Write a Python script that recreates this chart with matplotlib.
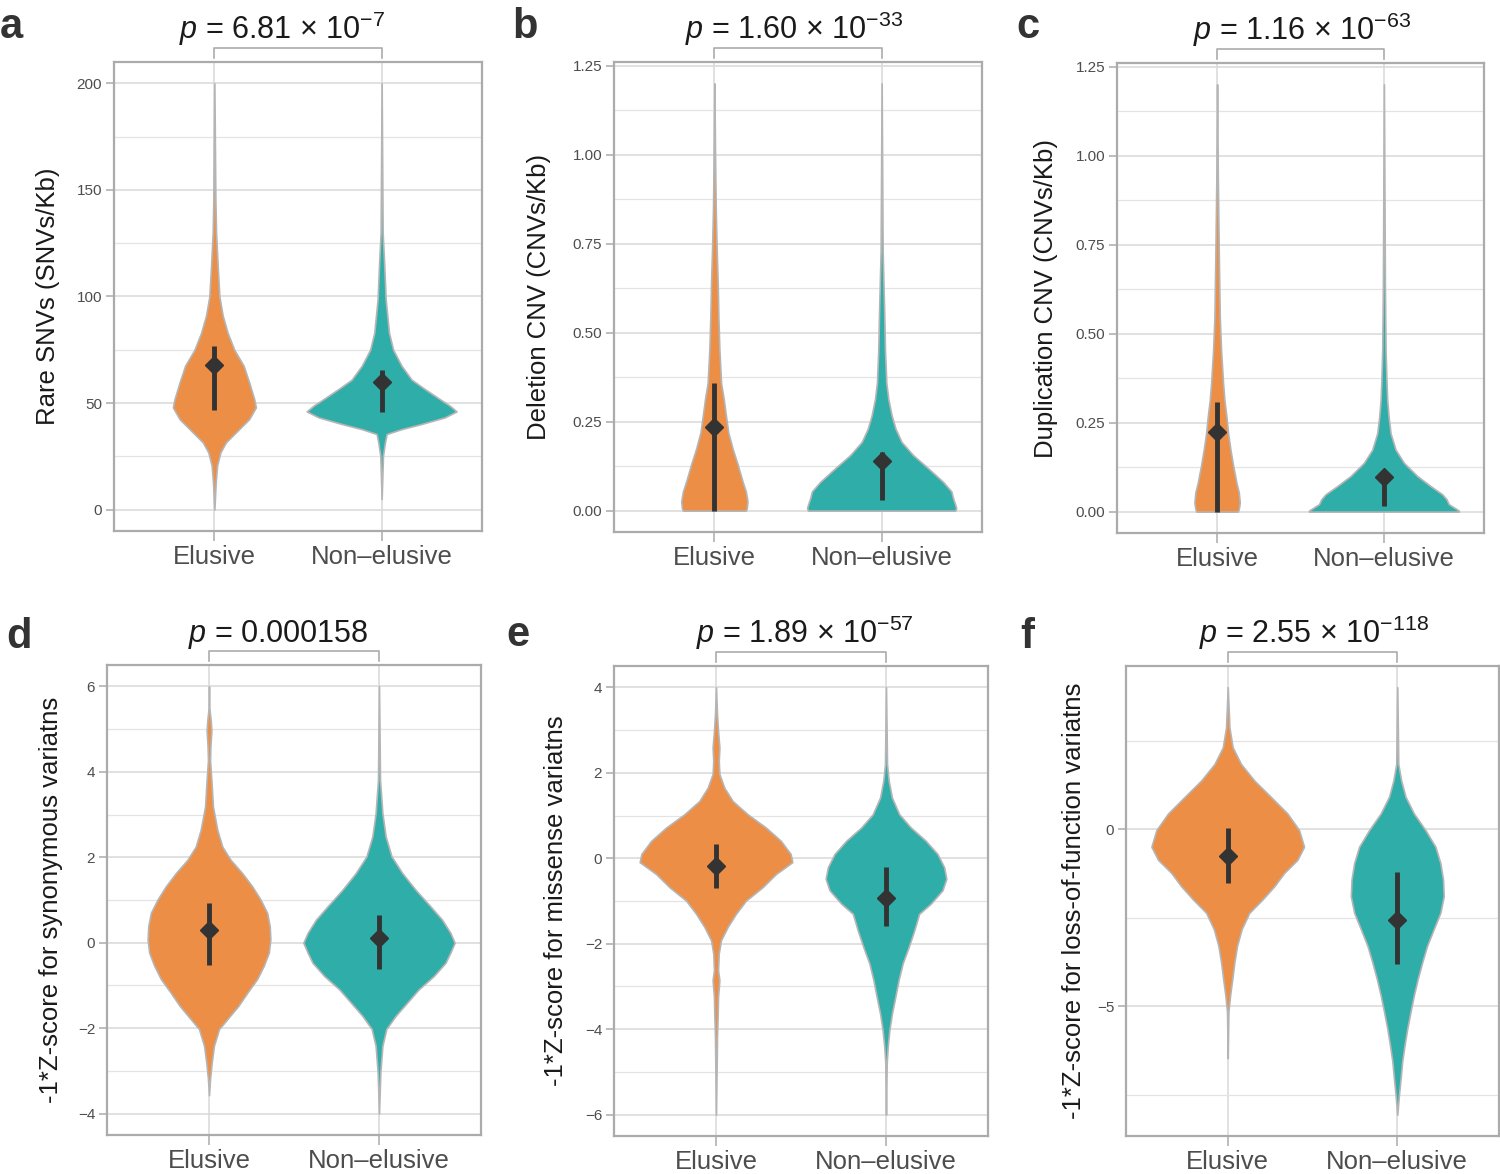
import matplotlib.pyplot as plt
import matplotlib.transforms as mtransforms
import numpy as np

plt.rcParams['font.family'] = ['Liberation Sans', 'DejaVu Sans']
plt.rcParams['mathtext.fontset'] = 'custom'
plt.rcParams['mathtext.rm'] = 'Liberation Sans'
plt.rcParams['mathtext.it'] = 'Liberation Sans:italic'

groups = ["Elusive", "Non–elusive"]
orange = "#EC8E45"
teal = "#2FADA9"

# --- a: rare SNVs (value, violin half-width in category units) ---
a_eli_y = [200, 145.6, 130, 114, 100, 91, 83, 75, 67.5, 59.7, 51.9, 48, 42.5, 36.3, 31.6, 26.9, 20.6, 12.8, 0]
a_eli_w = [0, .006, .010, .020, .030, .050, .079, .119, .175, .208, .238, .248, .208, .129, .069, .036, .016, .008, 0]
a_non_y = [200, 130, 114, 98.8, 83, 75, 67.5, 61, 56.6, 51.9, 48.8, 46.1, 43.3, 40.2, 37.8, 35.5, 31.6, 25.3, 5]
a_non_w = [0, .006, .016, .024, .044, .069, .119, .179, .258, .347, .407, .448, .377, .238, .119, .030, .020, .008, 0]
a_mid = [68, 60]
a_low = [46.9, 45.6]
a_high = [76.9, 65.5]

# --- b: deletion CNV ---
b_eli_y = [1.2, 1.0, 0.85, 0.73, 0.637, 0.544, 0.452, 0.359, 0.313, 0.267, 0.22, 0.174, 0.13, 0.081, 0.054, 0.026, 0.007, 0]
b_eli_w = [0, .004, .008, .014, .020, .024, .030, .040, .056, .069, .083, .109, .139, .169, .188, .198, .194, .188]
b_non_y = [1.2, 0.73, 0.544, 0.452, 0.359, 0.313, 0.267, 0.23, 0.193, 0.156, 0.119, 0.081, 0.054, 0.035, 0.017, 0.007, 0]
b_non_w = [0, .006, .016, .020, .028, .040, .060, .083, .119, .188, .278, .367, .417, .427, .440, .446, .440]
b_mid = [0.236, 0.14]
b_low = [0.0, 0.029]
b_high = [0.359, 0.165]

# --- c: duplication CNV ---
c_eli_y = [1.2, 0.95, 0.73, 0.544, 0.452, 0.359, 0.313, 0.267, 0.22, 0.174, 0.13, 0.081, 0.054, 0.026, 0.007, 0]
c_eli_w = [0, .004, .010, .016, .024, .036, .044, .056, .066, .080, .096, .116, .130, .136, .130, .124]
c_non_y = [1.2, 0.637, 0.452, 0.359, 0.313, 0.267, 0.22, 0.174, 0.137, 0.1, 0.072, 0.049, 0.035, 0.021, 0.012, 0.003, 0]
c_non_w = [0, .006, .010, .016, .020, .028, .040, .070, .120, .200, .279, .349, .375, .389, .419, .449, .449]
c_mid = [0.223, 0.098]
c_low = [0.0, 0.017]
c_high = [0.308, 0.114]

# --- d: synonymous Z-score ---
d_eli_y = [6, 5.5, 5.2, 4.97, 4.58, 4.27, 3.81, 3.19, 2.64, 2.25, 1.94, 1.63, 1.32, 1.01, 0.7, 0.39, 0.08,
           -0.23, -0.54, -0.85, -1.17, -1.48, -1.79, -2.02, -2.41, -2.8, -3.19, -3.57]
d_eli_w = [0, .002, .010, .014, .008, .006, .014, .023, .049, .078, .127, .195, .254, .303, .342, .357, .361,
           .352, .322, .283, .225, .172, .107, .059, .029, .016, .006, 0]
d_non_y = [6, 3.81, 3.03, 2.49, 2.02, 1.63, 1.24, 0.85, 0.54, 0.23, 0, -0.23, -0.47, -0.78, -1.09, -1.4,
           -1.71, -2.02, -2.41, -3.03, -4]
d_non_w = [0, .006, .020, .039, .074, .137, .215, .303, .371, .420, .445, .420, .391, .322, .234, .166,
           .098, .043, .020, .008, 0]
d_mid = [0.3, 0.1]
d_low = [-0.53, -0.62]
d_high = [0.93, 0.64]

# --- e: missense Z-score ---
e_eli_y = [4, 3.36, 2.98, 2.59, 2.28, 1.97, 1.65, 1.34, 1.03, 0.72, 0.41, 0.1, -0.09, -0.37, -0.68, -0.99,
           -1.3, -1.61, -1.92, -2.23, -2.62, -2.85, -3.24, -3.63, -4.17, -6]
e_eli_w = [0, .006, .012, .020, .016, .020, .049, .098, .186, .293, .381, .439, .449, .352, .273, .176,
           .117, .068, .029, .016, .012, .020, .012, .010, .006, 0]
e_non_y = [4, 2.2, 1.81, 1.42, 1.03, 0.72, 0.41, 0.1, -0.21, -0.48, -0.75, -1.06, -1.3, -1.69, -2.08,
           -2.46, -2.85, -3.24, -3.63, -4.02, -4.41, -4.8, -6]
e_non_w = [0, .006, .016, .035, .078, .146, .234, .303, .342, .355, .332, .264, .195, .166, .133,
           .098, .074, .055, .035, .020, .010, .004, 0]
e_mid = [-0.19, -0.92]
e_low = [-0.69, -1.59]
e_high = [0.33, -0.21]

# --- f: loss-of-function Z-score ---
f_eli_y = [4.02, 2.88, 2.32, 1.85, 1.38, 0.92, 0.45, -0.02, -0.49, -0.86, -1.23, -1.61, -1.98, -2.36,
           -2.82, -3.29, -3.76, -4.22, -4.69, -5.16, -6.47]
f_eli_w = [0, .010, .029, .078, .157, .254, .352, .421, .450, .411, .333, .274, .205, .127,
           .082, .055, .039, .027, .014, .004, 0]
f_non_y = [4.02, 1.85, 1.38, 0.92, 0.45, -0.02, -0.49, -0.95, -1.42, -1.89, -2.36, -2.82, -3.29, -3.76,
           -4.22, -4.69, -5.16, -5.63, -6.1, -6.56, -7.03, -7.5, -8.07]
f_non_w = [0, .006, .023, .049, .098, .166, .225, .254, .270, .274, .254, .215, .176, .147,
           .121, .098, .078, .059, .043, .029, .020, .010, 0]
f_mid = [-0.74, -2.56]
f_low = [-1.51, -3.8]
f_high = [0.03, -1.21]

W, H = 1500, 1174
fig = plt.figure(figsize=(15, 11.74), dpi=100)


def make_ax(l, r, t, b):
    return fig.add_axes([l / W, 1 - b / H, (r - l) / W, (b - t) / H])


def violin(ax, x, ys, ws, color):
    ys = np.array(ys)
    ws = np.array(ws)
    ax.fill_betweenx(ys, x - ws, x + ws, facecolor=color, edgecolor="#B5B5B5",
                     linewidth=1.2, zorder=3)


def pointrange(ax, mids, lows, highs):
    for i, (m, lo, hi) in enumerate(zip(mids, lows, highs)):
        ax.plot([i + 1, i + 1], [lo, hi], color="#333333", lw=3.5, solid_capstyle="butt", zorder=4)
        ax.plot(i + 1, m, marker="D", ms=9, color="#333333", zorder=5)


def panel(box, letter, letter_xy, ylab, ylab_x, title, title_dx, ylim, major, labels, minor,
          eli, non, mids, lows, highs):
    l, r, t, b = box
    ax = make_ax(l, r, t, b)
    violin(ax, 1, eli[0], eli[1], orange)
    violin(ax, 2, non[0], non[1], teal)
    pointrange(ax, mids, lows, highs)

    ax.set_xlim(0.4, 2.6)
    ax.set_ylim(*ylim)
    ax.set_yticks(major, labels)
    ax.set_yticks(minor, minor=True)
    ax.set_xticks([1, 2], groups)
    ax.grid(which="major", axis="both", color="#D9D9D9", lw=1.1)
    ax.grid(which="minor", axis="y", color="#E4E4E4", lw=0.9)
    ax.set_axisbelow(True)
    ax.tick_params(axis="y", which="major", labelsize=11, labelcolor="#4D4D4D", color="#ABABAB",
                   length=6, width=1.1, pad=2.5)
    ax.tick_params(axis="y", which="minor", length=0)
    ax.tick_params(axis="x", labelsize=18.5, labelcolor="#4D4D4D", color="#ABABAB",
                   length=7, width=1.1, pad=3)
    for s in ax.spines.values():
        s.set_color("#ABABAB")
        s.set_linewidth(1.6)

    # p-value bracket
    hp = b - t
    wp = r - l
    trans = mtransforms.blended_transform_factory(ax.transData, ax.transAxes)
    ax.plot([1, 1, 2, 2], [1 + 4 / hp, 1 + 14 / hp, 1 + 14 / hp, 1 + 4 / hp], transform=trans,
            color="#ABABAB", lw=1.2, clip_on=False)
    ax.text(1.5 + title_dx / wp * 2.2, 1 + 23 / hp, title, transform=trans, ha="center",
            va="baseline", fontsize=22, color="#1A1A1A")

    fig.text(ylab_x / W, 1 - (t + b) / 2 / H, ylab, rotation=90, ha="center", va="center",
             fontsize=18.5, color="#1A1A1A")
    fig.text(letter_xy[0] / W, 1 - letter_xy[1] / H, letter, fontsize=30, fontweight="bold",
             ha="left", va="baseline", color="#333333")
    return ax


cnv_major = [0, 0.25, 0.5, 0.75, 1.0, 1.25]
cnv_labels = ["0.00", "0.25", "0.50", "0.75", "1.00", "1.25"]
cnv_minor = [0.125, 0.375, 0.625, 0.875, 1.125]

panel((114, 482, 62, 531), "a", (0, 38), "Rare SNVs (SNVs/Kb)", 48,
      r"$p$ = 6.81 × 10$^{-7}$", -16, (-10, 210),
      [0, 50, 100, 150, 200], ["0", "50", "100", "150", "200"], [25, 75, 125, 175],
      (a_eli_y, a_eli_w), (a_non_y, a_non_w), a_mid, a_low, a_high)

panel((614, 982, 62, 532), "b", (512, 38), "Deletion CNV (CNVs/Kb)", 539,
      r"$p$ = 1.60 × 10$^{-33}$", -4, (-0.06, 1.26),
      cnv_major, cnv_labels, cnv_minor,
      (b_eli_y, b_eli_w), (b_non_y, b_non_w), b_mid, b_low, b_high)

panel((1117, 1484, 63, 533), "c", (1016, 38), "Duplication CNV (CNVs/Kb)", 1046,
      r"$p$ = 1.16 × 10$^{-63}$", 2, (-0.06, 1.26),
      cnv_major, cnv_labels, cnv_minor,
      (c_eli_y, c_eli_w), (c_non_y, c_non_w), c_mid, c_low, c_high)

panel((107, 481, 665, 1135), "d", (6, 648), "-1*Z-score for synonymous variatns", 51,
      r"$p$ = 0.000158", -16, (-4.5, 6.5),
      [-4, -2, 0, 2, 4, 6], ["−4", "−2", "0", "2", "4", "6"], [-3, -1, 1, 3, 5],
      (d_eli_y, d_eli_w), (d_non_y, d_non_w), d_mid, d_low, d_high)

panel((614, 988, 666, 1136), "e", (506, 646), "-1*Z-score for missense variatns", 556,
      r"$p$ = 1.89 × 10$^{-57}$", 4, (-6.5, 4.5),
      [-6, -4, -2, 0, 2, 4], ["−6", "−4", "−2", "0", "2", "4"], [-5, -3, -1, 1, 3],
      (e_eli_y, e_eli_w), (e_non_y, e_non_w), e_mid, e_low, e_high)

panel((1126, 1499, 666, 1136), "f", (1020, 648), "-1*Z-score for loss-of-function variatns", 1074,
      r"$p$ = 2.55 × 10$^{-118}$", 1, (-8.67, 4.62),
      [-5, 0], ["−5", "0"], [-7.5, -2.5, 2.5],
      (f_eli_y, f_eli_w), (f_non_y, f_non_w), f_mid, f_low, f_high)

fig.savefig("out.png", dpi=100)
